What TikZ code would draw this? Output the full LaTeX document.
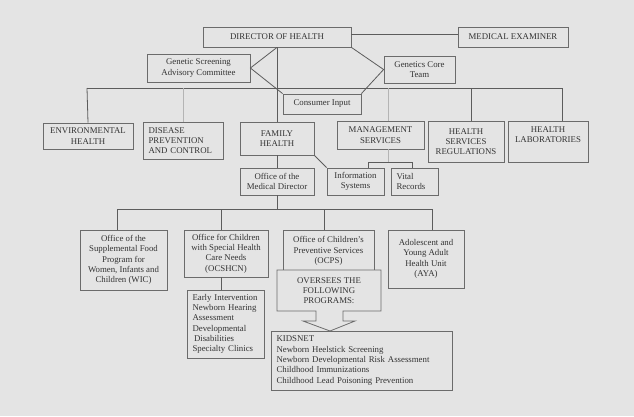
\documentclass[tikz,border=0pt]{standalone}
\usepackage{fontspec}
\setmainfont{Liberation Serif}
\definecolor{bg}{HTML}{E4E4E4}
\definecolor{boxline}{HTML}{6B6B6B}
\definecolor{wire}{HTML}{5C5C5C}
\definecolor{wirefaint}{HTML}{B4B4B4}
\definecolor{ink}{HTML}{333333}
\begin{document}
\begin{tikzpicture}[x=1pt,y=-1pt,
  box/.style={draw=boxline, fill=bg, line width=0.8pt, text=ink, inner sep=0pt,
    align=center, font=\fontsize{8.8}{10.3}\selectfont},
  lbox/.style={box, align=left, inner xsep=5.5pt},
  link/.style={draw=wire, line width=0.8pt},
  faint/.style={draw=wirefaint, line width=0.8pt}]

\fill[bg] (0,0) rectangle (634,416);
\useasboundingbox (0,0) rectangle (634,416);

% ---- top level ----
\node[box, minimum width=148pt, minimum height=20pt] (dir) at (277,37) {DIRECTOR OF HEALTH};
\node[box, minimum width=110pt, minimum height=20pt] (me) at (513,37) {MEDICAL EXAMINER};
\node[box, minimum width=103pt, minimum height=28pt] (gsac) at (198.5,68) {Genetic Screening\\Advisory Committee};
\node[box, minimum width=71pt, minimum height=27pt] (gct) at (419.5,69.5) {Genetics Core\\Team};

% bus under the director
\coordinate (busL) at (87,88);
\coordinate (busR) at (562,88);
\coordinate (tapDis) at (183,88);
\coordinate (tapMs) at (388,88);
\coordinate (tapHsr) at (471,88);

% ---- divisions ----
\node[box, minimum width=90pt, minimum height=26pt] (env) at (88,136) {ENVIRONMENTAL\\HEALTH};
\node[lbox, text width=69pt, minimum height=37pt] (dis) at (183,140.5) {DISEASE\\PREVENTION\\AND CONTROL};
\node[box, minimum width=74pt, minimum height=33pt] (fh) at (277,138.5) {FAMILY\\HEALTH};
\node[box, minimum width=87pt, minimum height=28pt] (ms) at (380.5,135) {MANAGEMENT\\SERVICES};
\node[box, minimum width=76pt, minimum height=41pt] (hsr) at (466,141.5) {HEALTH\\SERVICES\\REGULATIONS};
\node[box, minimum width=80pt, minimum height=41pt] (hl) at (548,141.5) {HEALTH\\LABORATORIES\\\strut};

\draw[link] (busL) -- (busR);
\draw[link] (busL) -- (env.north);
\draw[faint] (tapDis) -- (dis.north);
\draw[faint] (tapMs) -- (tapMs |- ms.north);
\draw[link] (tapHsr) -- (tapHsr |- hsr.north);
\draw[link] (busR) -- (busR |- hl.north);
\draw[link] (dir.south) -- (fh.north);
\draw[link] ([yshift=3pt]dir.east) -- ([yshift=3pt]me.west);

\node[box, minimum width=78pt, minimum height=20pt] (ci) at (322,104) {Consumer Input};
\draw[link] (dir.south) -- (gsac.east) -- (ci.north west);
\draw[link] (dir.south east) -- (gct.west) -- (ci.north east);

% ---- second row ----
\node[box, minimum width=74pt, minimum height=27pt] (omd) at (277,181.5) {Office of the\\Medical Director};
\node[box, minimum width=57pt, minimum height=27pt] (is) at (355.5,181.5) {Information\\Systems};
\node[lbox, text width=36pt, minimum height=27pt] (vr) at (414.5,181.5) {Vital\\Records};

\draw[link] (fh.south) -- (omd.north);
\draw[link] (fh.south east) -- (is.north west);
\coordinate (brL) at (368,162);
\coordinate (brR) at (412,162);
\draw[faint] (ms.south -| tapMs) -- (tapMs |- brL);
\draw[link] (brL |- is.north) -- (brL) -- (brR) -- (brR |- vr.north);

% ---- offices ----
\coordinate (obusL) at (117,209);
\coordinate (obusR) at (432,209);
\coordinate (tapSh) at (221,209);
\coordinate (tapPs) at (324,209);

\node[box, minimum width=87pt, minimum height=60pt] (wic) at (123.5,260)
  {Office of the\\Supplemental Food\\Program for\\Women, Infants and\\Children (WIC)};
\node[box, minimum width=84pt, minimum height=47pt] (csh) at (226,253.5)
  {Office for Children\\with Special Health\\Care Needs\\(OCSHCN)};
\node[box, minimum width=91pt, minimum height=42pt] (ocps) at (328.5,251)
  {Office of Children's\\Preventive Services\\(OCPS)};
\node[box, minimum width=76pt, minimum height=58pt] (aya) at (426,259)
  {Adolescent and\\Young Adult\\Health Unit\\(AYA)};

\draw[link] (omd.south) -- (omd.south |- obusL);
\draw[link] (obusL) -- (obusR);
\draw[link] (obusL) -- (obusL |- wic.north);
\draw[link] (tapSh) -- (tapSh |- csh.north);
\draw[link] (tapPs) -- (tapPs |- ocps.north);
\draw[link] (obusR) -- (obusR |- aya.north);

% ---- programme lists ----
\node[lbox, text width=66pt, minimum height=68pt] (ei) at (225.5,324)
  {Early Intervention\\Newborn Hearing\\Assessment\\Developmental\\\hspace{1.5pt}Disabilities\\Specialty Clinics};
\draw[link] (csh.south -| tapSh) -- (tapSh |- ei.north);

\node[lbox, text width=170pt, minimum height=59pt] (kid) at (361.5,360.5)
  {KIDSNET\\Newborn Heelstick Screening\\Newborn Developmental Risk Assessment\\Childhood Immunizations\\Childhood Lead Poisoning Prevention};

% callout arrow over the OCPS box
\filldraw[draw=boxline, fill=bg, line width=0.8pt, line join=miter]
  (277,270) -- (381,270) -- (381,311) -- (343,311) -- (343,321) -- (355,321)
  -- (330,331) -- (303,321) -- (316,321) -- (316,311) -- (277,311) -- cycle;
\node[text=ink, align=center, inner sep=0pt, font=\fontsize{8.8}{10.3}\selectfont]
  (over) at (329,290.5) {OVERSEES THE\\FOLLOWING\\PROGRAMS:};
\end{tikzpicture}
\end{document}
